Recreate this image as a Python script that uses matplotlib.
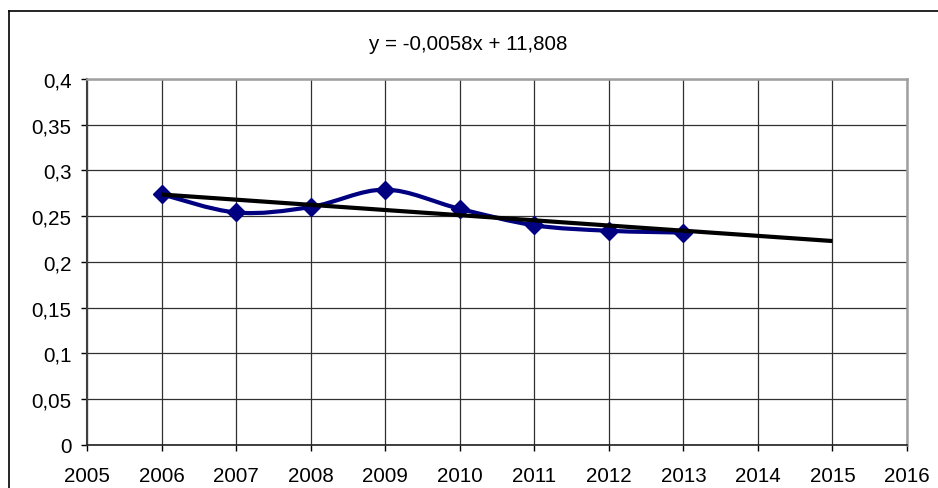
import numpy as np
import matplotlib.pyplot as plt
from matplotlib.path import Path
from matplotlib.patches import PathPatch
from matplotlib.lines import Line2D
from matplotlib.ticker import FuncFormatter, MultipleLocator

plt.rcParams['font.family'] = ['Liberation Sans', 'DejaVu Sans']

# data
years = [2006, 2007, 2008, 2009, 2010, 2011, 2012, 2013]
values = [0.274, 0.254, 0.260, 0.279, 0.258, 0.240, 0.234, 0.232]
trend_end = 2015
equation = "y = -0,0058x + 11,808"

W, H = 938, 489
fig = plt.figure(figsize=(W / 100, H / 100), dpi=100)
ax = fig.add_axes([87 / W, 1 - 445.7 / H, (907 - 87) / W, (445.7 - 80) / H])

x = np.array(years, dtype=float)
y = np.array(values)

# smoothed line (Excel style bezier through the points)
pts = np.column_stack([x, y])
ext = np.vstack([pts[0], pts, pts[-1]])
verts = [tuple(pts[0])]
codes = [Path.MOVETO]
for i in range(1, len(ext) - 2):
    p0, p1, p2, p3 = ext[i - 1], ext[i], ext[i + 1], ext[i + 2]
    c1 = p1 + (p2 - p0) / 6
    c2 = p2 - (p3 - p1) / 6
    verts += [tuple(c1), tuple(c2), tuple(p2)]
    codes += [Path.CURVE4] * 3
ax.add_patch(PathPatch(Path(verts, codes), fill=False, edgecolor='#000080',
                       lw=3.0, zorder=3, capstyle='round', joinstyle='round'))
ax.plot(x, y, linestyle='none', marker='D', ms=9.5, color='#000080', zorder=4)

# linear trend line, forecast to 2015
k, b = np.polyfit(x, y, 1)
tx = np.array([years[0], trend_end], dtype=float)
ax.plot(tx, k * tx + b, color='black', lw=3.0, zorder=5, solid_capstyle='butt')

ax.set_xlim(2005, 2016)
ax.set_ylim(0, 0.4)
ax.xaxis.set_major_locator(MultipleLocator(1))
ax.yaxis.set_major_locator(MultipleLocator(0.05))
ax.yaxis.set_major_formatter(FuncFormatter(lambda v, p: ('%g' % round(v, 2)).replace('.', ',')))
ax.xaxis.set_major_formatter(FuncFormatter(lambda v, p: '%d' % round(v)))
ax.grid(True, color='#303030', lw=0.9)
ax.set_axisbelow(True)
ax.tick_params(direction='out', length=4, width=1, labelsize=14.8, colors='black')
ax.tick_params(axis='x', pad=11)
ax.tick_params(axis='y', pad=7)

for s in ['top', 'right']:
    ax.spines[s].set_color('#a0a0a0')
    ax.spines[s].set_linewidth(1.8)
ax.spines['left'].set_color('#404040')
ax.spines['left'].set_linewidth(1.5)
ax.spines['bottom'].set_color('#202020')
ax.spines['bottom'].set_linewidth(1.2)

fig.text(468 / W, 1 - 44 / H, equation, ha='center', va='center', fontsize=14.8)

# outer chart frame (cut off at right and bottom)
fig.add_artist(Line2D([9 / W, 9 / W], [0, 1 - 12 / H], transform=fig.transFigure, color='black', lw=1.2))
fig.add_artist(Line2D([9 / W, 1], [1 - 12 / H, 1 - 12 / H], transform=fig.transFigure, color='black', lw=1.2))

fig.savefig('out.png', dpi=100)
